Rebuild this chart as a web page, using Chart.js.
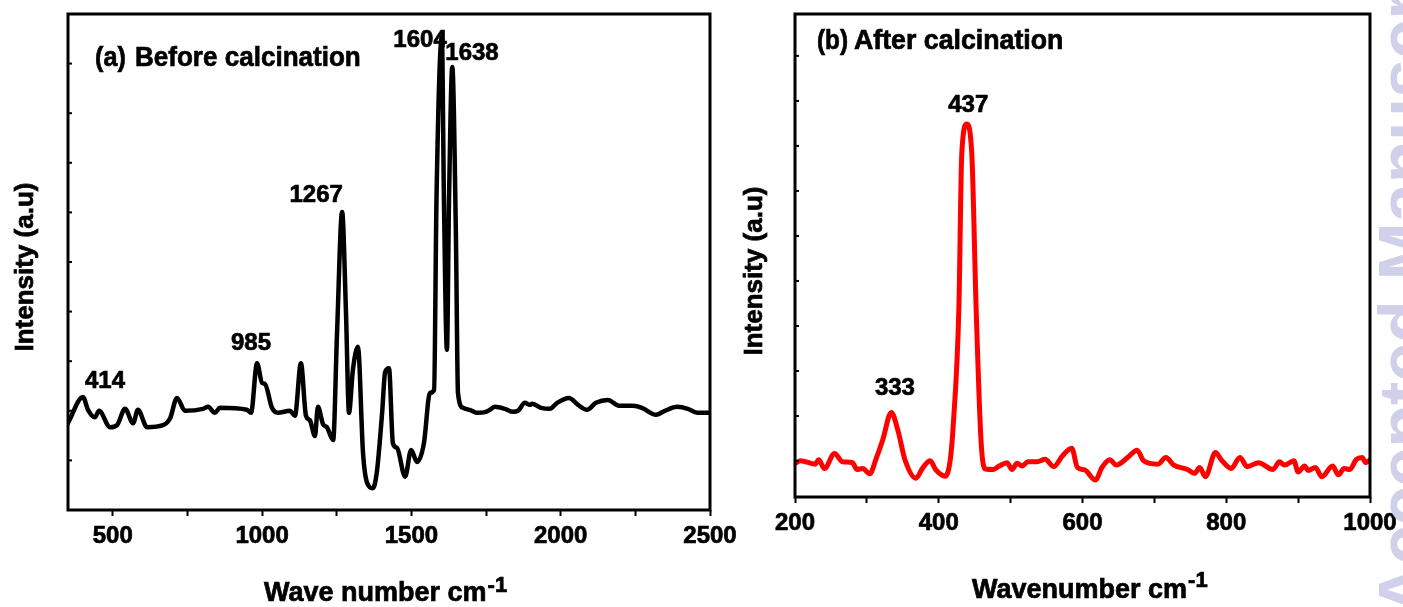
<!DOCTYPE html>
<html>
<head>
<meta charset="utf-8">
<script src="https://cdn.jsdelivr.net/npm/chart.js@4"></script>
<style>
  html, body { margin: 0; padding: 0; background: #fff; }
  body { width: 1403px; height: 607px; position: relative; overflow: hidden; }
  #left-wrap { position: absolute; left: 0; top: 0; }
  #right-wrap { position: absolute; left: 740px; top: 0; }
</style>
</head>
<body>
<div id="left-wrap"><canvas id="left-chart" width="740" height="607"></canvas></div>
<div id="right-wrap"><canvas id="right-chart" width="663" height="607"></canvas></div>
<script>
// (a) before calcination: wavenumber (cm-1) and intensity (a.u.)
const leftWave = [350, 400, 417, 440, 454, 491, 514, 541, 568, 584, 615, 668, 692, 715, 742, 802, 819, 842, 859,
  949, 963, 983, 1000, 1010, 1033, 1053, 1093, 1110, 1130, 1147, 1160, 1177, 1187, 1204, 1217, 1238, 1251, 1268,
  1281, 1291, 1304, 1321, 1338, 1351, 1371, 1384, 1402, 1412, 1425, 1438, 1452, 1479, 1499, 1519, 1542, 1562,
  1576, 1584, 1602, 1609, 1619, 1626, 1637, 1649, 1656, 1673, 1703, 1720, 1750, 1763, 1780, 1813, 1840, 1857,
  1880, 1897, 1904, 1934, 1964, 1988, 2028, 2058, 2088, 2118, 2158, 2195, 2242, 2272, 2319, 2349, 2390, 2426,
  2457, 2500];
const leftIntensity = [175, 228, 202, 187, 200, 167, 171, 204, 175, 202, 167, 171, 185, 226, 200, 204, 208, 196, 206,
  202, 196, 296, 256, 254, 206, 196, 200, 190, 296, 190, 181, 149, 208, 173, 167, 141, 357, 601,
  397, 196, 282, 329, 115, 56, 44, 75, 196, 278, 286, 135, 125, 67, 121, 97, 135, 236,
  242, 625, 954, 625, 323, 625, 893, 558, 236, 206, 200, 196, 198, 202, 208, 204, 198, 200,
  216, 212, 214, 206, 204, 216, 226, 212, 202, 216, 222, 210, 210, 206, 192, 200, 208, 204,
  196, 196];

// (b) after calcination
const rightWave = [200, 208, 228, 233, 241, 255, 266, 280, 286, 294, 304, 313, 322, 334, 343, 353, 368, 378, 388,
  396, 409, 416, 420, 428, 432, 439, 446, 452, 459, 465, 476, 484, 495, 502, 509, 516, 524, 537, 548, 560,
  572, 585, 593, 603, 618, 627, 638, 647, 663, 676, 685, 705, 716, 727, 746, 756, 763, 771, 785, 793, 807,
  819, 829, 845, 865, 874, 881, 894, 900, 909, 914, 924, 933, 948, 956, 964, 972, 981, 989, 994, 1000];
const rightIntensity = [70, 75, 68, 77, 59, 90, 73, 71, 57, 59, 48, 80, 118, 175, 139, 77, 39, 61, 75,
  56, 43, 77, 145, 391, 710, 772, 710, 391, 112, 58, 57, 64, 71, 57, 70, 64, 73, 73, 78, 63,
  85, 101, 61, 56, 35, 61, 77, 66, 82, 97, 75, 68, 82, 66, 57, 49, 61, 42, 92, 77, 59,
  82, 63, 71, 57, 73, 66, 75, 52, 64, 55, 61, 42, 64, 46, 59, 57, 78, 82, 71, 77];

// peak annotations: text, wavenumber and intensity where the label sits
const leftPeakText = ['414', '985', '1267', '1604', '1638'];
const leftPeakAt = [[474, 246], [963, 323], [1181, 621], [1529, 933], [1703, 907]];
const rightPeakText = ['333', '437'];
const rightPeakAt = [[339, 211], [441, 797]];

const FONT = '"Liberation Sans", Arial, Helvetica, sans-serif';

// bold text, a little heavier than the plain font
function boldText(ctx, text, x, y) {
    ctx.lineWidth = 0.7;
    ctx.strokeText(text, x, y);
    ctx.fillText(text, x, y);
}

function drawText(ctx, text, x, y, size, sx) {
    ctx.save();
    ctx.translate(x, y);
    ctx.scale(sx || 1, 1);
    ctx.font = 'bold ' + size + 'px ' + FONT;
    boldText(ctx, text, 0, 0);
    const w = ctx.measureText(text).width * (sx || 1);
    ctx.restore();
    return w;
}

// frame, inward y ticks, tick labels, titles and peak labels
function makeDecor(cfg) {
    return {
        id: 'decor',
        afterDraw(chart) {
            const ctx = chart.ctx;
            const area = chart.chartArea;
            const xs = chart.scales.x;
            const ys = chart.scales.y;
            ctx.save();
            ctx.strokeStyle = '#000';
            ctx.fillStyle = '#000';

            ctx.lineWidth = 3;
            ctx.strokeRect(area.left, area.top, area.right - area.left, area.bottom - area.top);

            ctx.lineWidth = 2;
            ys.ticks.forEach(t => {
                const y = ys.getPixelForValue(t.value);
                ctx.beginPath();
                ctx.moveTo(area.left, y);
                ctx.lineTo(area.left + 4, y);
                ctx.stroke();
            });

            // x tick labels
            ctx.font = 'bold 24px ' + FONT;
            ctx.textAlign = 'center';
            ctx.textBaseline = 'middle';
            xs.ticks.forEach(t => {
                if (t.value % cfg.labelEvery === 0) {
                    boldText(ctx, String(t.value), xs.getPixelForValue(t.value), area.bottom + 26);
                }
            });

            // peak labels
            ctx.textBaseline = 'alphabetic';
            cfg.peakText.forEach((txt, i) => {
                const p = cfg.peakAt[i];
                boldText(ctx, txt, xs.getPixelForValue(p[0]), ys.getPixelForValue(p[1]));
            });

            // panel label
            ctx.textAlign = 'left';
            drawText(ctx, cfg.tag, cfg.tagX, cfg.tagY, cfg.tagSize, 0.9);
            drawText(ctx, cfg.name, cfg.nameX, cfg.tagY, cfg.tagSize, cfg.nameScale);

            // x title with superscript
            const w = drawText(ctx, cfg.xTitle, cfg.xTitleX, cfg.xTitleY, 27, 1);
            drawText(ctx, '-1', cfg.xTitleX + w + 1, cfg.supY, 22, 1);

            // y title
            ctx.save();
            ctx.translate(cfg.yTitleX, cfg.yTitleY);
            ctx.rotate(-Math.PI / 2);
            ctx.textAlign = 'center';
            ctx.font = 'bold 26px ' + FONT;
            boldText(ctx, 'Intensity (a.u)', 0, 0);
            ctx.restore();

            if (cfg.watermark) {
                ctx.save();
                ctx.translate(area.right + 58, 615);
                ctx.rotate(-Math.PI / 2);
                ctx.textAlign = 'left';
                ctx.font = 'bold 70px ' + FONT;
                ctx.fillStyle = 'rgba(200, 200, 230, 0.85)';
                ctx.fillText('Accepted Manuscript', 0, 0);
                ctx.restore();
            }
            ctx.restore();
        }
    };
}

function makeChart(canvasId, wave, intensity, color, lineWidth, scales, padding, decor) {
    return new Chart(document.getElementById(canvasId), {
        type: 'line',
        data: {
            datasets: [{
                data: wave.map((x, i) => ({ x: x, y: intensity[i] })),
                borderColor: color,
                borderWidth: lineWidth,
                pointRadius: 0,
                fill: false,
                cubicInterpolationMode: 'monotone',
                borderJoinStyle: 'round',
                borderCapStyle: 'round'
            }]
        },
        options: {
            responsive: false,
            animation: false,
            events: [],
            layout: { padding: padding },
            plugins: { legend: { display: false }, tooltip: { enabled: false } },
            scales: scales
        },
        plugins: [makeDecor(decor)]
    });
}

function xScale(min, max, step, height) {
    return {
        type: 'linear', min: min, max: max,
        ticks: { stepSize: step, includeBounds: false, display: false },
        grid: { drawOnChartArea: false, drawTicks: true, tickLength: 6, tickWidth: 2, tickColor: '#000', color: '#000' },
        border: { display: false },
        afterFit: s => { s.height = height; }
    };
}

function yScale(width, extra) {
    return Object.assign({
        type: 'linear', min: 0, max: 1000,
        ticks: { stepSize: 100, display: false },
        grid: { display: false },
        border: { display: false },
        afterFit: s => { s.width = width; }
    }, extra || {});
}

makeChart('left-chart', leftWave, leftIntensity, '#000', 4.5,
    { x: xScale(350, 2500, 250, 97), y: yScale(68) },
    { left: 0, top: 14, right: 30, bottom: 0 },
    {
        labelEvery: 500, peakText: leftPeakText, peakAt: leftPeakAt,
        tag: '(a)', tagX: 95, tagY: 66, tagSize: 28, name: 'Before calcination', nameX: 135, nameScale: 0.93,
        xTitle: 'Wave number cm', xTitleX: 264, xTitleY: 601, supY: 592,
        yTitleX: 33, yTitleY: 267
    });

makeChart('right-chart', rightWave, rightIntensity, '#ff0000', 5,
    {
        x: xScale(200, 1000, 100, 110),
        y: yScale(55, {
            afterBuildTicks: s => {
                const t = [];
                for (let v = 74.5; v < 1000; v += 93.2) t.push({ value: v });
                s.ticks = t;
            }
        })
    },
    { left: 0, top: 14, right: 33, bottom: 0 },
    {
        labelEvery: 200, peakText: rightPeakText, peakAt: rightPeakAt,
        tag: '(b)', tagX: 77, tagY: 49, tagSize: 27, name: 'After calcination', nameX: 114, nameScale: 0.99,
        xTitle: 'Wavenumber cm', xTitleX: 232, xTitleY: 598, supY: 587,
        yTitleX: 22, yTitleY: 271, watermark: true
    });
</script>
</body>
</html>
